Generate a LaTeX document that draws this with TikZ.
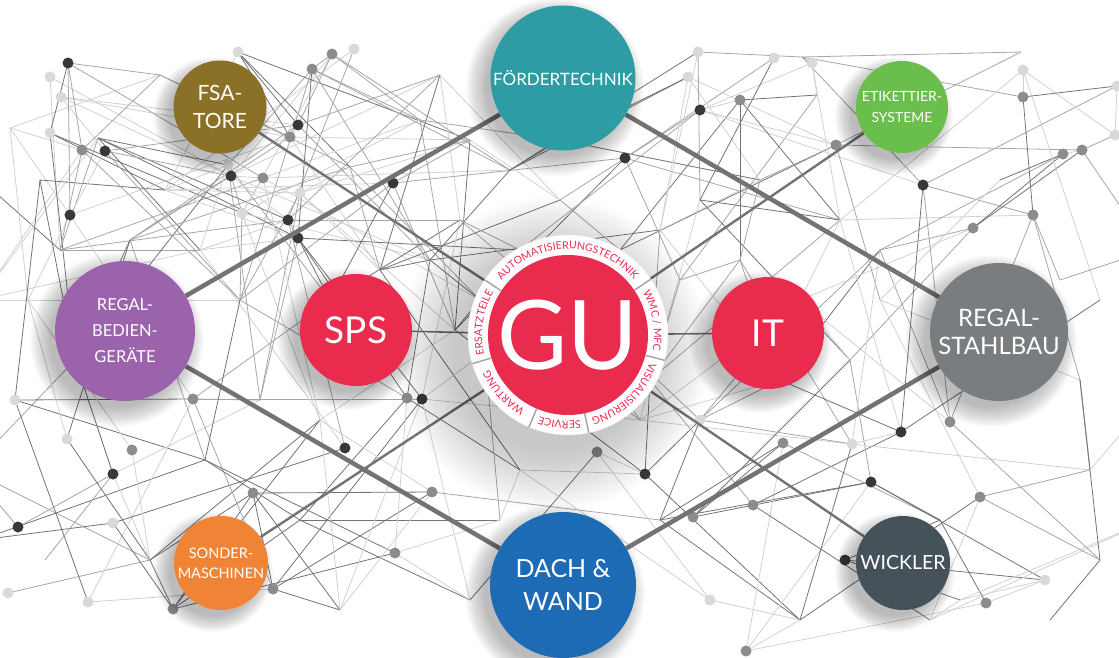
\documentclass[tikz,border=0pt]{standalone}
\usepackage{fontspec}
\setmainfont{Lato}
\usetikzlibrary{decorations.text}
\definecolor{fsa colour}{HTML}{8B7128}
\definecolor{foerder colour}{HTML}{2E9CA4}
\definecolor{etikett colour}{HTML}{6ABE4B}
\definecolor{rbg colour}{HTML}{9B63AB}
\definecolor{gu colour}{HTML}{E92B4E}
\definecolor{stahl colour}{HTML}{7A7D80}
\definecolor{sonder colour}{HTML}{F08436}
\definecolor{dach colour}{HTML}{1D6BB4}
\definecolor{wickler colour}{HTML}{46525A}
\colorlet{web tone 0}{black!18}
\colorlet{web tone 1}{black!35}
\colorlet{web tone 2}{black!55}
\colorlet{link colour}{black!55}
\newcommand{\ringfont}{\fontsize{10.5}{10.5}\selectfont}
\pgfdeclarelayer{web}
\pgfdeclarelayer{links}
\pgfdeclarelayer{shade}
\pgfsetlayers{web,links,shade,main}
\tikzset{
    % The web in the background
    web line/.style={draw=web tone #1, line width=0.8pt},
    dot d/.style={fill=black!78},
    dot m/.style={fill=black!45},
    dot l/.style={fill=black!15},
    dot n/.style={},
%
    % Lines between the topics
    main link/.style={draw=link colour, line width=4.5pt},
    spoke/.style={draw=link colour, line width=2.4pt},
%
    % The coloured topic circles
    topic/.style={
        circle, fill=#1, text=white, align=center, inner sep=0pt},
    pics/soft shadow/.style args={#1/#2/#3}{
        code={
            \foreach \s in {0,...,19}
                \fill [black, opacity=#3] (-8,-9)
                    circle [radius=#1-3+#2*(19-\s)/19];}},
%
    % Text round the GU circle
    ring text/.style={
        decorate, decoration={text along path, text={|\ringfont|#1},
            text color=gu colour, text align=center}},
    ring tick/.style={draw=black!35, line width=1.5pt},
}

\begin{document}
\begin{tikzpicture}[x=1pt, y=1pt]
\useasboundingbox (0,0) rectangle (1119,-657);

\begin{pgfonlayer}{web}
\begin{scope}
\clip (0,0) rectangle (1119,-657);
\foreach \px/\py/\pt [count=\i] in {
    -30/170/n, -30/470/n, -20/300/n, -20/540/n, 8/593/l, 10/128/n,
    15/400/l, 18/527/d, 28/300/n, 40/180/n, 45/560/n, 50/77/l,
    50/133/l, 60/250/n, 61/97/l, 67/439/l, 68/63/d, 70/215/d,
    75/360/n, 82/150/m, 88/602/l, 98/138/n, 105/151/d, 113/474/d,
    113/523/l, 130/240/n, 132/450/m, 150/560/n, 160/75/n, 165/190/n,
    173/609/m, 193/399/m, 200/250/n, 205/460/n, 228/165/l, 231/176/d,
    238/52/l, 240/300/n, 242/213/l, 253/493/m, 260/400/n, 263/178/m,
    273/589/m, 288/220/d, 290/137/m, 298/238/d, 298/125/d, 300/193/l,
    300/520/n, 312/69/m, 320/420/n, 330/300/n, 332/54/m, 340/610/n,
    345/448/d, 350/167/n, 354/49/l, 380/270/n, 393/183/d, 395/553/m,
    407/398/m, 420/120/n, 422/399/d, 430/260/n, 432/492/m, 440/75/n,
    455/330/n, 460/220/n, 470/140/n, 470/600/n, 480/300/n, 500/520/n,
    510/170/n, 520/250/n, 520/470/n, 560/140/n, 560/200/n, 597/452/m,
    620/250/n, 625/158/d, 640/420/n, 645/474/d, 650/380/n, 660/230/n,
    660/520/n, 680/280/n, 688/77/l, 693/517/m, 698/52/l, 700/110/d,
    700/200/n, 700/420/l, 710/600/l, 740/100/m, 740/260/n, 746/651/m,
    753/505/m, 760/180/n, 774/58/l, 780/380/n, 783/443/m, 800/300/n,
    800/620/n, 802/57/n, 812/63/l, 817/95/n, 836/145/m, 840/220/n,
    845/560/d, 850/360/n, 852/444/l, 871/482/d, 880/250/n, 880/300/n,
    901/432/d, 923/185/d, 930/620/n, 940/520/n, 950/422/m, 960/600/n,
    973/228/m, 980/497/m, 986/603/m, 1000/180/n, 1021/52/n, 1023/70/l,
    1023/97/m, 1033/215/m, 1045/580/l, 1050/620/n, 1060/280/n, 1063/154/m,
    1080/380/n, 1082/150/m, 1090/470/n, 1100/300/n, 1100/560/n, 1115/135/l,
    1117/86/l, 1150/250/n, 1150/400/n, 1150/520/n}{
    \coordinate (p\i) at (\px,-\py);
    \expandafter\xdef\csname webx\i\endcsname{\px}
    \expandafter\xdef\csname weby\i\endcsname{\py}
    \expandafter\xdef\csname webt\i\endcsname{\pt}
    \xdef\webcount{\i}
}
\foreach \i in {1,...,\webcount}{
    \foreach \k in {1,...,32}{
        \pgfmathtruncatemacro{\j}{\i+\k}
        \ifnum\j>\webcount\relax\else
            \pgfmathsetmacro{\dd}{veclen(
                (\csname webx\j\endcsname-\csname webx\i\endcsname)/100,
                (\csname weby\j\endcsname-\csname weby\i\endcsname)/100)}
            \pgfmathtruncatemacro{\keep}{and(\dd<2.5, mod(\i*37+\j*17,11)<2)}
            \pgfmathtruncatemacro{\tone}{mod(\i*5+\j*3,3)}
            \ifnum\keep=1
                \draw [web line=\tone] (p\i) -- (p\j);
            \fi
        \fi
    }
}
\foreach \i in {1,...,\webcount}{
    \edef\tp{\csname webt\i\endcsname}
    \path [dot \tp] (p\i) circle [radius=5.5];
}
\end{scope}
\end{pgfonlayer}

\path
    (220,-107) node [topic=fsa colour, minimum size=93pt,
        font=\fontsize{21}{28}\selectfont] (fsa) {FSA-\\TORE}
    (563,-78) node [topic=foerder colour, minimum size=145pt,
        font=\fontsize{17}{20}\selectfont] (foerder) {FÖRDERTECHNIK}
    (902,-107) node [topic=etikett colour, minimum size=92pt,
        font=\fontsize{14}{21}\selectfont] (etikett) {ETIKETTIER-\\SYSTEME}
    (125,-331) node [topic=rbg colour, minimum size=140pt,
        font=\fontsize{16.5}{26}\selectfont] (rbg) {REGAL-\\BEDIEN-\\GERÄTE}
    (356,-330) node [topic=gu colour, minimum size=112pt,
        font=\fontsize{37}{40}\selectfont] (sps) {SPS}
    (768,-333) node [topic=gu colour, minimum size=112pt,
        font=\fontsize{37}{40}\selectfont] (it) {IT}
    (999,-332) node [topic=stahl colour, minimum size=138pt,
        font=\fontsize{24}{28}\selectfont] (stahl) {REGAL-\\STAHLBAU}
    (221,-563) node [topic=sonder colour, minimum size=94pt,
        font=\fontsize{14.5}{20}\selectfont] (sonder) {SONDER-\\MASCHINEN}
    (563,-585) node [topic=dach colour, minimum size=146pt,
        font=\fontsize{25}{33}\selectfont] (dach) {DACH \&\\WAND}
    (903,-563) node [topic=wickler colour, minimum size=94pt,
        font=\fontsize{19.5}{22}\selectfont] (wickler) {WICKLER}
    (568,-335) node [circle, fill=white, draw=black!8, minimum size=200pt] (ring) {}
    (ring.center) node [topic=gu colour, minimum size=160pt,
        font=\fontsize{96}{96}\selectfont] (gu) {GU};

\begin{pgfonlayer}{links}
\draw [main link] (rbg) -- (foerder);
\draw [main link] (foerder) -- (stahl);
\draw [main link] (rbg) -- (dach);
\draw [main link] (dach) -- (stahl);
\draw [spoke] (fsa) -- (ring);
\draw [spoke] (etikett) -- (ring);
\draw [spoke] (sonder) -- (ring);
\draw [spoke] (wickler) -- (ring);
\draw [spoke, line width=1.6pt] (sps) -- (ring);
\draw [spoke, line width=1.6pt] (it) -- (ring);
\end{pgfonlayer}

\begin{pgfonlayer}{shade}
\pic at (fsa.center) {soft shadow=46/16/0.014};
\pic at (foerder.center) {soft shadow=72/20/0.014};
\pic at (etikett.center) {soft shadow=46/16/0.014};
\pic at (rbg.center) {soft shadow=70/20/0.014};
\pic at (sps.center) {soft shadow=56/18/0.014};
\pic at (it.center) {soft shadow=56/18/0.014};
\pic at (stahl.center) {soft shadow=69/20/0.014};
\pic at (sonder.center) {soft shadow=47/16/0.014};
\pic at (dach.center) {soft shadow=73/20/0.014};
\pic at (wickler.center) {soft shadow=47/16/0.014};
\pic at ([shift={(-8,-10)}]ring.center) {soft shadow=100/60/0.011};
\end{pgfonlayer}

% Words round the GU circle
\path [ring text={AUTOMATISIERUNGSTECHNIK}]
    (gu.center) ++(146.5:86) arc [start angle=146.5, end angle=34, radius=86];
\path [ring text={WMC / MFC}]
    (gu.center) ++(34:86) arc [start angle=34, end angle=-14.7, radius=86];
\path [ring text={VISUALISIERUNG}]
    (gu.center) ++(-14.7:86) arc [start angle=-14.7, end angle=-78, radius=86];
\path [ring text={SERVICE}]
    (gu.center) ++(-78:86) arc [start angle=-78, end angle=-113, radius=86];
\path [ring text={WARTUNG}]
    (gu.center) ++(-113:86) arc [start angle=-113, end angle=-163.3, radius=86];
\path [ring text={ERSATZTEILE}]
    (gu.center) ++(196.7:86) arc [start angle=196.7, end angle=146.5, radius=86];
\foreach \a in {146.5,34,-14.7,-78,-113,-163.3}
    \draw [ring tick] (gu.center) ++(\a:80) -- ++(\a:20);

\end{tikzpicture}
\end{document}
